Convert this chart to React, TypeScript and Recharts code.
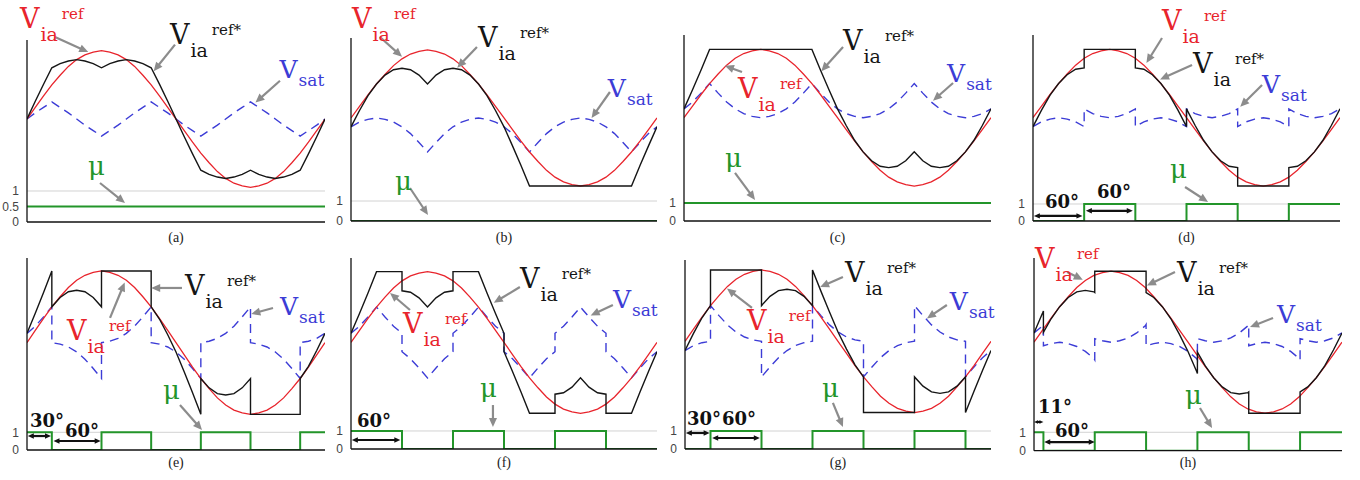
import React from 'react';
import { LineChart, Line, XAxis, YAxis, ReferenceLine, ReferenceDot } from 'recharts';

type Pt = [number, number];

// Electrical angle grid (degrees) for the continuous traces
const DEG = [0, 10, 20, 30, 40, 50, 60, 70, 80, 90, 100, 110, 120, 130, 140, 150, 160, 170, 180,
  190, 200, 210, 220, 230, 240, 250, 260, 270, 280, 290, 300, 310, 320, 330, 340, 350, 360];

// Phase-a reference V_ia^ref, per unit of its peak
const V_REF = [0, 0.17, 0.34, 0.5, 0.64, 0.77, 0.87, 0.94, 0.98, 1, 0.98, 0.94, 0.87, 0.77, 0.64, 0.5, 0.34, 0.17, 0,
  -0.17, -0.34, -0.5, -0.64, -0.77, -0.87, -0.94, -0.98, -1, -0.98, -0.94, -0.87, -0.77, -0.64, -0.5, -0.34, -0.17, 0];

// (a) mu = 0.5
const A_STAR = [0, 0.26, 0.51, 0.75, 0.81, 0.85, 0.87, 0.85, 0.81, 0.75, 0.81, 0.85, 0.87, 0.85, 0.81, 0.75, 0.51, 0.26, 0,
  -0.26, -0.51, -0.75, -0.81, -0.85, -0.87, -0.85, -0.81, -0.75, -0.81, -0.85, -0.87, -0.85, -0.81, -0.75, -0.51, -0.26, 0];
const A_SAT = [0, 0.09, 0.17, 0.25, 0.17, 0.09, 0, -0.09, -0.17, -0.25, -0.17, -0.09, 0, 0.09, 0.17, 0.25, 0.17, 0.09, 0,
  -0.09, -0.17, -0.25, -0.17, -0.09, 0, 0.09, 0.17, 0.25, 0.17, 0.09, 0, -0.09, -0.17, -0.25, -0.17, -0.09, 0];

// (b) mu = 0
const B_STAR = [-0.13, 0.11, 0.33, 0.5, 0.63, 0.71, 0.73, 0.71, 0.63, 0.5, 0.63, 0.71, 0.73, 0.71, 0.63, 0.5, 0.33, 0.11, -0.13,
  -0.41, -0.7, -1, -1, -1, -1, -1, -1, -1, -1, -1, -1, -1, -1, -1, -0.7, -0.41, -0.13];
const B_SAT = [-0.13, -0.06, -0.02, 0, -0.02, -0.06, -0.13, -0.23, -0.36, -0.5, -0.36, -0.23, -0.13, -0.06, -0.02, 0, -0.02, -0.06, -0.13,
  -0.23, -0.36, -0.5, -0.36, -0.23, -0.13, -0.06, -0.02, 0, -0.02, -0.06, -0.13, -0.23, -0.36, -0.5, -0.36, -0.23, -0.13];

// (c) mu = 1
const C_STAR = [0.13, 0.41, 0.7, 1, 1, 1, 1, 1, 1, 1, 1, 1, 1, 1, 1, 1, 0.7, 0.41, 0.13,
  -0.11, -0.33, -0.5, -0.63, -0.71, -0.73, -0.71, -0.63, -0.5, -0.63, -0.71, -0.73, -0.71, -0.63, -0.5, -0.33, -0.11, 0.13];
const C_SAT = [0.13, 0.23, 0.36, 0.5, 0.36, 0.23, 0.13, 0.06, 0.02, 0, 0.02, 0.06, 0.13, 0.23, 0.36, 0.5, 0.36, 0.23, 0.13,
  0.06, 0.02, 0, 0.02, 0.06, 0.13, 0.23, 0.36, 0.5, 0.36, 0.23, 0.13, 0.06, 0.02, 0, 0.02, 0.06, 0.13];

// (d)-(h): [angle, value]; a repeated angle marks a switching instant
const D_STAR: Pt[] = [[0, -0.13], [10, 0.11], [20, 0.33], [30, 0.5], [40, 0.63], [50, 0.71], [60, 0.73], [60, 1], [120, 1], [120, 0.73],
  [130, 0.71], [140, 0.63], [150, 0.5], [160, 0.33], [170, 0.11], [180, -0.13], [180, 0.13], [190, -0.11], [200, -0.33], [210, -0.5],
  [220, -0.63], [230, -0.71], [240, -0.73], [240, -1], [300, -1], [300, -0.73], [310, -0.71], [320, -0.63], [330, -0.5], [340, -0.33],
  [350, -0.11], [360, 0.13]];
const D_SAT: Pt[] = [[0, -0.13], [10, -0.06], [20, -0.02], [30, 0], [40, -0.02], [50, -0.06], [60, -0.13], [60, 0.13], [70, 0.06], [80, 0.02],
  [90, 0], [100, 0.02], [110, 0.06], [120, 0.13], [120, -0.13], [130, -0.06], [140, -0.02], [150, 0], [160, -0.02], [170, -0.06], [180, -0.13],
  [180, 0.13], [190, 0.06], [200, 0.02], [210, 0], [220, 0.02], [230, 0.06], [240, 0.13], [240, -0.13], [250, -0.06], [260, -0.02], [270, 0],
  [280, -0.02], [290, -0.06], [300, -0.13], [300, 0.13], [310, 0.06], [320, 0.02], [330, 0], [340, 0.02], [350, 0.06], [360, 0.13]];

const E_STAR: Pt[] = [[0, 0.13], [10, 0.41], [20, 0.7], [30, 1], [30, 0.5], [40, 0.63], [50, 0.71], [60, 0.73], [70, 0.71], [80, 0.63],
  [90, 0.5], [90, 1], [150, 1], [150, 0.5], [160, 0.33], [170, 0.11], [180, -0.13], [190, -0.41], [200, -0.7], [210, -1], [210, -0.5],
  [220, -0.63], [230, -0.71], [240, -0.73], [250, -0.71], [260, -0.63], [270, -0.5], [270, -1], [330, -1], [330, -0.5], [340, -0.33],
  [350, -0.11], [360, 0.13]];
const E_SAT: Pt[] = [[0, 0.13], [10, 0.23], [20, 0.36], [30, 0.5], [30, 0], [40, -0.02], [50, -0.06], [60, -0.13], [70, -0.23], [80, -0.36],
  [90, -0.5], [90, 0], [100, 0.02], [110, 0.06], [120, 0.13], [130, 0.23], [140, 0.36], [150, 0.5], [150, 0], [160, -0.02], [170, -0.06],
  [180, -0.13], [190, -0.23], [200, -0.36], [210, -0.5], [210, 0], [220, 0.02], [230, 0.06], [240, 0.13], [250, 0.23], [260, 0.36],
  [270, 0.5], [270, 0], [280, -0.02], [290, -0.06], [300, -0.13], [310, -0.23], [320, -0.36], [330, -0.5], [330, 0], [340, 0.02],
  [350, 0.06], [360, 0.13]];

const F_STAR: Pt[] = [[0, 0.13], [10, 0.41], [20, 0.7], [30, 1], [60, 1], [60, 0.73], [70, 0.71], [80, 0.63], [90, 0.5], [100, 0.63],
  [110, 0.71], [120, 0.73], [120, 1], [150, 1], [160, 0.7], [170, 0.41], [180, 0.13], [180, -0.13], [190, -0.41], [200, -0.7], [210, -1],
  [240, -1], [240, -0.73], [250, -0.71], [260, -0.63], [270, -0.5], [280, -0.63], [290, -0.71], [300, -0.73], [300, -1], [330, -1],
  [340, -0.7], [350, -0.41], [360, -0.13]];
const F_SAT: Pt[] = [[0, 0.13], [10, 0.23], [20, 0.36], [30, 0.5], [40, 0.36], [50, 0.23], [60, 0.13], [60, -0.13], [70, -0.23], [80, -0.36],
  [90, -0.5], [100, -0.36], [110, -0.23], [120, -0.13], [120, 0.13], [130, 0.23], [140, 0.36], [150, 0.5], [160, 0.36], [170, 0.23],
  [180, 0.13], [180, -0.13], [190, -0.23], [200, -0.36], [210, -0.5], [220, -0.36], [230, -0.23], [240, -0.13], [240, 0.13], [250, 0.23],
  [260, 0.36], [270, 0.5], [280, 0.36], [290, 0.23], [300, 0.13], [300, -0.13], [310, -0.23], [320, -0.36], [330, -0.5], [340, -0.36],
  [350, -0.23], [360, -0.13]];

const G_STAR: Pt[] = [[0, -0.13], [10, 0.11], [20, 0.33], [30, 0.5], [30, 1], [90, 1], [90, 0.5], [100, 0.63], [110, 0.71], [120, 0.73],
  [130, 0.71], [140, 0.63], [150, 0.5], [150, 1], [160, 0.7], [170, 0.41], [180, 0.13], [190, -0.11], [200, -0.33], [210, -0.5], [210, -1],
  [270, -1], [270, -0.5], [280, -0.63], [290, -0.71], [300, -0.73], [310, -0.71], [320, -0.63], [330, -0.5], [330, -1], [340, -0.7],
  [350, -0.41], [360, -0.13]];
const G_SAT: Pt[] = [[0, -0.13], [10, -0.06], [20, -0.02], [30, 0], [30, 0.5], [40, 0.36], [50, 0.23], [60, 0.13], [70, 0.06], [80, 0.02],
  [90, 0], [90, -0.5], [100, -0.36], [110, -0.23], [120, -0.13], [130, -0.06], [140, -0.02], [150, 0], [150, 0.5], [160, 0.36], [170, 0.23],
  [180, 0.13], [190, 0.06], [200, 0.02], [210, 0], [210, -0.5], [220, -0.36], [230, -0.23], [240, -0.13], [250, -0.06], [260, -0.02],
  [270, 0], [270, 0.5], [280, 0.36], [290, 0.23], [300, 0.13], [310, 0.06], [320, 0.02], [330, 0], [330, -0.5], [340, -0.36],
  [350, -0.23], [360, -0.13]];

const H_STAR: Pt[] = [[0, 0.13], [10, 0.41], [11, 0.44], [11, 0.14], [20, 0.33], [30, 0.5], [40, 0.63], [50, 0.71], [60, 0.73], [70, 0.71],
  [71, 0.7], [71, 1], [131, 1], [131, 0.7], [140, 0.63], [150, 0.5], [160, 0.33], [170, 0.11], [180, -0.13], [190, -0.41], [191, -0.44],
  [191, -0.14], [200, -0.33], [210, -0.5], [220, -0.63], [230, -0.71], [240, -0.73], [250, -0.71], [251, -0.7], [251, -1], [311, -1],
  [311, -0.7], [320, -0.63], [330, -0.5], [340, -0.33], [350, -0.11], [360, 0.13]];
const H_SAT: Pt[] = [[0, 0.13], [10, 0.23], [11, 0.25], [11, -0.05], [20, -0.02], [30, 0], [40, -0.02], [50, -0.06], [60, -0.13], [70, -0.23],
  [71, -0.25], [71, 0.05], [80, 0.02], [90, 0], [100, 0.02], [110, 0.06], [120, 0.13], [130, 0.23], [131, 0.25], [131, -0.05], [140, -0.02],
  [150, 0], [160, -0.02], [170, -0.06], [180, -0.13], [190, -0.23], [191, -0.25], [191, 0.05], [200, 0.02], [210, 0], [220, 0.02],
  [230, 0.06], [240, 0.13], [250, 0.23], [251, 0.25], [251, -0.05], [260, -0.02], [270, 0], [280, -0.02], [290, -0.06], [300, -0.13],
  [310, -0.23], [311, -0.25], [311, 0.05], [320, 0.02], [330, 0], [340, 0.02], [350, 0.06], [360, 0.13]];

// Distribution ratio mu (step after each listed angle)
const A_MU: Pt[] = [[0, 0.5], [360, 0.5]];
const B_MU: Pt[] = [[0, 0], [360, 0]];
const C_MU: Pt[] = [[0, 1], [360, 1]];
const D_MU: Pt[] = [[0, 0], [60, 1], [120, 0], [180, 1], [240, 0], [300, 1], [360, 1]];
const E_MU: Pt[] = [[0, 1], [30, 0], [90, 1], [150, 0], [210, 1], [270, 0], [330, 1], [360, 1]];
const F_MU: Pt[] = [[0, 1], [60, 0], [120, 1], [180, 0], [240, 1], [300, 0], [360, 0]];
const G_MU: Pt[] = [[0, 0], [30, 1], [90, 0], [150, 1], [210, 0], [270, 1], [330, 0], [360, 0]];
const H_MU: Pt[] = [[0, 1], [11, 0], [71, 1], [131, 0], [191, 1], [251, 0], [311, 1], [360, 1]];

const MU_TICKS_A = [0, 0.5, 1];
const MU_TICKS = [0, 1];

const onGrid = (ys: number[]) => DEG.map((x, i) => ({ x, y: ys[i] }));
const fromPairs = (p: Pt[]) => p.map(([x, y]) => ({ x, y }));

const RED = '#e8242c';
const BLACK = '#151515';
const BLUE = '#3c3cd6';
const GREEN = '#23952a';
const GRAY = '#8c8c8c';
const SERIF = '"DejaVu Serif", serif';

type Note =
  | { t: 'ref' | 'refStar' | 'sat'; at: Pt }
  | { t: 'mu'; at: Pt }
  | { t: 'deg'; text: string; at: Pt };
type Arrow = { from: Pt; to: Pt; axis: 'w' | 'mu'; span?: boolean; head?: number };

type PanelSpec = {
  caption: string;
  left: number; right: number; top: number; bottom: number; chartTop: number;
  wDomain: [number, number];
  muMax: number;
  muTicks: number[];
  star: { x: number; y: number }[];
  sat: { x: number; y: number }[];
  mu: Pt[];
  notes: Note[];
  arrows: Arrow[];
};

const PANELS: PanelSpec[] = [
  {
    caption: '(a)', left: 27, right: 325, top: 40, bottom: 222, chartTop: 0,
    wDomain: [-1.508, 1.157], muMax: 5.87, muTicks: MU_TICKS_A,
    star: onGrid(A_STAR), sat: onGrid(A_SAT), mu: A_MU,
    notes: [{ t: 'ref', at: [-8.5, 1.332] }, { t: 'refStar', at: [172.7, 1.1] }, { t: 'sat', at: [305, 0.6] }, { t: 'mu', at: [73.7, 1.516] }],
    arrows: [
      { from: [33.8, 1.2], to: [74, 0.98], axis: 'w' },
      { from: [178.8, 1.09], to: [153, 0.7], axis: 'w' },
      { from: [305.6, 0.56], to: [276, 0.24], axis: 'w' },
      { from: [88.2, 1.258], to: [118.4, 0.613], axis: 'mu' },
    ],
  },
  {
    caption: '(b)', left: 351, right: 657, top: 38, bottom: 221, chartTop: 0,
    wDomain: [-1.515, 1.176], muMax: 9.15, muTicks: MU_TICKS,
    star: onGrid(B_STAR), sat: onGrid(B_SAT), mu: B_MU,
    notes: [{ t: 'ref', at: [1.2, 1.324] }, { t: 'refStar', at: [149.4, 1.044] }, { t: 'sat', at: [302.2, 0.309] }, { t: 'mu', at: [51.7, 1.55] }],
    arrows: [
      { from: [34.1, 1.191], to: [60, 0.9], axis: 'w' },
      { from: [148.2, 1.044], to: [125, 0.74], axis: 'w' },
      { from: [304.6, 0.382], to: [283, 0.0], axis: 'w' },
      { from: [69.4, 1.65], to: [90.6, 0.3], axis: 'mu' },
    ],
  },
  {
    caption: '(c)', left: 684, right: 991, top: 35, bottom: 221, chartTop: 0,
    wDomain: [-1.512, 1.211], muMax: 10.33, muTicks: MU_TICKS,
    star: onGrid(C_STAR), sat: onGrid(C_SAT), mu: C_MU,
    notes: [{ t: 'refStar', at: [186.5, 0.991] }, { t: 'ref', at: [63.3, 0.287] }, { t: 'sat', at: [308.5, 0.523] }, { t: 'mu', at: [48.1, 3.0] }],
    arrows: [
      { from: [186.5, 1.035], to: [161, 0.68], axis: 'w' },
      { from: [68, 0.67], to: [48, 0.76], axis: 'w' },
      { from: [315.5, 0.508], to: [292, 0.25], axis: 'w' },
      { from: [59.8, 2.67], to: [83.3, 1.17], axis: 'mu' },
    ],
  },
  {
    caption: '(d)', left: 1033, right: 1340, top: 35, bottom: 221, chartTop: 0,
    wDomain: [-1.512, 1.211], muMax: 10.94, muTicks: MU_TICKS,
    star: fromPairs(D_STAR), sat: fromPairs(D_SAT), mu: D_MU,
    notes: [
      { t: 'ref', at: [151.3, 1.284] }, { t: 'refStar', at: [187.7, 0.654] }, { t: 'sat', at: [268.6, 0.362] }, { t: 'mu', at: [160.7, 2.53] },
      { t: 'deg', text: '60°', at: [14.1, 0.76] }, { t: 'deg', text: '60°', at: [75.1, 1.35] },
    ],
    arrows: [
      { from: [151.3, 1.167], to: [133, 0.8], axis: 'w' },
      { from: [186.5, 0.772], to: [149, 0.56], axis: 'w' },
      { from: [268.6, 0.479], to: [243, 0.16], axis: 'w' },
      { from: [178.3, 2.0], to: [205.3, 1.12], axis: 'mu' },
      { from: [1, 0.3], to: [58, 0.3], axis: 'mu', span: true },
      { from: [62, 0.6], to: [117, 0.6], axis: 'mu', span: true },
    ],
  },
  {
    caption: '(e)', left: 27, right: 325, top: 258, bottom: 450, chartTop: 244,
    wDomain: [-1.497, 1.181], muMax: 10.85, muTicks: MU_TICKS,
    star: fromPairs(E_STAR), sat: fromPairs(E_SAT), mu: E_MU,
    notes: [
      { t: 'refStar', at: [190.9, 0.665] }, { t: 'ref', at: [48.3, 0.038] }, { t: 'sat', at: [305.6, 0.386] }, { t: 'mu', at: [164.3, 2.88] },
      { t: 'deg', text: '30°', at: [3.6, 1.3] }, { t: 'deg', text: '60°', at: [45.9, 0.73] },
    ],
    arrows: [
      { from: [187.2, 0.763], to: [150, 0.763], axis: 'w' },
      { from: [100.3, 0.345], to: [118, 0.84], axis: 'w' },
      { from: [297.2, 0.484], to: [271, 0.4], axis: 'w' },
      { from: [184.8, 2.54], to: [211.4, 1.13], axis: 'mu' },
      { from: [1, 0.79], to: [29, 0.79], axis: 'mu', span: true },
      { from: [32, 0.51], to: [89, 0.51], axis: 'mu', span: true },
    ],
  },
  {
    caption: '(f)', left: 351, right: 657, top: 258, bottom: 449, chartTop: 244,
    wDomain: [-1.504, 1.193], muMax: 10.6, muTicks: MU_TICKS,
    star: fromPairs(F_STAR), sat: fromPairs(F_SAT), mu: F_MU,
    notes: [
      { t: 'refStar', at: [198.7, 0.77] }, { t: 'ref', at: [61.2, 0.134] }, { t: 'sat', at: [308.1, 0.487] }, { t: 'mu', at: [151.7, 2.89] },
      { t: 'deg', text: '60°', at: [7.1, 1.22] },
    ],
    arrows: [
      { from: [198.7, 0.784], to: [168, 0.56], axis: 'w' },
      { from: [69.4, 0.459], to: [45.9, 0.7], axis: 'w' },
      { from: [308.1, 0.53], to: [282, 0.38], axis: 'w' },
      { from: [167, 2.44], to: [167, 1.22], axis: 'mu' },
      { from: [1, 0.5], to: [58, 0.5], axis: 'mu', span: true },
    ],
  },
  {
    caption: '(g)', left: 685, right: 991, top: 260, bottom: 449, chartTop: 244,
    wDomain: [-1.511, 1.14], muMax: 10.5, muTicks: MU_TICKS,
    star: fromPairs(G_STAR), sat: fromPairs(G_SAT), mu: G_MU,
    notes: [
      { t: 'refStar', at: [188.2, 0.832] }, { t: 'ref', at: [72.9, 0.158] }, { t: 'sat', at: [311.6, 0.439] }, { t: 'mu', at: [161.1, 2.89] },
      { t: 'deg', text: '30°', at: [2.4, 1.33] }, { t: 'deg', text: '60°', at: [43.5, 1.33] },
    ],
    arrows: [
      { from: [185.8, 0.902], to: [159, 0.76], axis: 'w' },
      { from: [78.8, 0.467], to: [49.4, 0.74], axis: 'w' },
      { from: [308.1, 0.509], to: [284.6, 0.32], axis: 'w' },
      { from: [174, 2.56], to: [185.8, 1.22], axis: 'mu' },
      { from: [1, 0.89], to: [29, 0.89], axis: 'mu', span: true },
      { from: [32, 0.61], to: [88, 0.61], axis: 'mu', span: true },
    ],
  },
  {
    caption: '(h)', left: 1034, right: 1342, top: 258, bottom: 450.7, chartTop: 244,
    wDomain: [-1.528, 1.186], muMax: 10.47, muTicks: MU_TICKS,
    star: fromPairs(H_STAR), sat: fromPairs(H_SAT), mu: H_MU,
    notes: [
      { t: 'ref', at: [1.2, 1.045] }, { t: 'refStar', at: [167.2, 0.848] }, { t: 'sat', at: [284.1, 0.27] }, { t: 'mu', at: [176.5, 2.54] },
      { t: 'deg', text: '11°', at: [4.7, 2.05] }, { t: 'deg', text: '60°', at: [24.5, 0.74] },
    ],
    arrows: [
      { from: [38.6, 0.989], to: [57, 0.88], axis: 'w' },
      { from: [164.8, 0.989], to: [132, 0.8], axis: 'w' },
      { from: [279.4, 0.341], to: [252.5, 0.214], axis: 'w' },
      { from: [194, 2.32], to: [208.1, 1.23], axis: 'mu' },
      { from: [0, 1.56], to: [11, 1.56], axis: 'mu', span: true, head: 4 },
      { from: [12, 0.47], to: [71, 0.47], axis: 'mu', span: true },
    ],
  },
];

const REF_ROWS = onGrid(V_REF);

// "V" with a subscript and an optional superscript, drawn from its left baseline
function signalLabel(color: string, vSize: number, sub: string, subSize: number, subDy: number, sup: string | null) {
  return (props: any) => (
    <text x={props.cx} y={props.cy} fill={color} fontFamily={SERIF}>
      <tspan fontSize={vSize}>V</tspan>
      <tspan fontSize={subSize} dx={1} dy={subDy}>{sub}</tspan>
      {sup ? <tspan fontSize={15} dx={4} dy={-subDy - 9}>{sup}</tspan> : null}
    </text>
  );
}

const muLabel = (props: any) => (
  <text x={props.cx} y={props.cy} fill={GREEN} fontSize={26} fontFamily={SERIF}>μ</text>
);

const degLabel = (text: string) => (props: any) => (
  <text x={props.cx} y={props.cy} fill="#111" fontSize={18} fontWeight="bold" fontFamily={SERIF}>{text}</text>
);

function arrowShape(color: string, sw: number, head: number, both: boolean) {
  return (props: any) => {
    const { x1, y1, x2, y2 } = props;
    const dx = x2 - x1;
    const dy = y2 - y1;
    const len = Math.hypot(dx, dy) || 1;
    const ux = dx / len;
    const uy = dy / len;
    const hw = head * 0.45;
    const tri = (tx: number, ty: number, vx: number, vy: number) =>
      `${tx},${ty} ${tx - vx * head - vy * hw},${ty - vy * head + vx * hw} ${tx - vx * head + vy * hw},${ty - vy * head - vx * hw}`;
    const sx = both ? x1 + ux * head * 0.7 : x1;
    const sy = both ? y1 + uy * head * 0.7 : y1;
    return (
      <g>
        <line x1={sx} y1={sy} x2={x2 - ux * head * 0.7} y2={y2 - uy * head * 0.7} stroke={color} strokeWidth={sw} />
        <polygon points={tri(x2, y2, ux, uy)} fill={color} />
        {both ? <polygon points={tri(x1, y1, -ux, -uy)} fill={color} /> : null}
      </g>
    );
  };
}

function noteShape(n: Note) {
  if (n.t === 'ref') return signalLabel(RED, 27, 'ia', 19, 13, 'ref');
  if (n.t === 'refStar') return signalLabel(BLACK, 27, 'ia', 19, 13, 'ref*');
  if (n.t === 'sat') return signalLabel(BLUE, 25, 'sat', 17, 8, null);
  if (n.t === 'mu') return muLabel;
  return degLabel(n.text);
}

const Y_AXIS_W = 28;
const RIGHT_PAD = 26;
const BOTTOM_PAD = 10;

function Panel({ p }: { p: PanelSpec }) {
  const width = p.right - p.left + Y_AXIS_W + RIGHT_PAD;
  const height = p.bottom - p.chartTop + 2 + BOTTOM_PAD;
  return (
    <div style={{ position: 'absolute', left: p.left - Y_AXIS_W, top: p.chartTop }}>
      <LineChart
        width={width}
        height={height}
        margin={{ top: p.top - p.chartTop, right: RIGHT_PAD, bottom: BOTTOM_PAD, left: 0 }}
        style={{ overflow: 'visible' }}
      >
        <XAxis
          type="number"
          dataKey="x"
          domain={[0, 360]}
          allowDataOverflow
          tick={false}
          tickLine={false}
          axisLine={{ stroke: '#111', strokeWidth: 1.3 }}
          height={2}
        />
        <YAxis
          yAxisId="mu"
          type="number"
          domain={[0, p.muMax]}
          allowDataOverflow
          ticks={p.muTicks}
          interval={0}
          width={Y_AXIS_W}
          tickLine={false}
          axisLine={{ stroke: '#111', strokeWidth: 1.3 }}
          tick={{ fontSize: 12, fill: '#444', fontFamily: '"Liberation Sans", Arial, sans-serif' }}
        />
        <YAxis yAxisId="w" hide type="number" domain={p.wDomain} allowDataOverflow />
        <ReferenceLine yAxisId="mu" y={1} stroke="#d2d2d2" strokeWidth={1} />
        <Line yAxisId="mu" data={fromPairs(p.mu)} dataKey="y" type="stepAfter" stroke={GREEN} strokeWidth={2}
          dot={false} activeDot={false} isAnimationActive={false} />
        <Line yAxisId="w" data={p.sat} dataKey="y" type="linear" stroke={BLUE} strokeWidth={1.4} strokeDasharray="9 6"
          dot={false} activeDot={false} isAnimationActive={false} />
        <Line yAxisId="w" data={REF_ROWS} dataKey="y" type="linear" stroke={RED} strokeWidth={1.3}
          dot={false} activeDot={false} isAnimationActive={false} />
        <Line yAxisId="w" data={p.star} dataKey="y" type="linear" stroke={BLACK} strokeWidth={1.4}
          dot={false} activeDot={false} isAnimationActive={false} />
        {p.arrows.map((a, i) => (
          <ReferenceLine
            key={`ar${i}`}
            yAxisId={a.axis}
            segment={[{ x: a.from[0], y: a.from[1] }, { x: a.to[0], y: a.to[1] }]}
            ifOverflow="visible"
            shape={a.span ? arrowShape('#111', 2.2, a.head ?? 6, true) : arrowShape(GRAY, 2.2, 9, false)}
          />
        ))}
        {p.notes.map((n, i) => (
          <ReferenceDot
            key={`nt${i}`}
            yAxisId={n.t === 'mu' || n.t === 'deg' ? 'mu' : 'w'}
            x={n.at[0]}
            y={n.at[1]}
            r={0}
            ifOverflow="visible"
            shape={noteShape(n)}
          />
        ))}
      </LineChart>
    </div>
  );
}

export default function App() {
  return (
    <div style={{ position: 'absolute', left: 0, top: 0, width: 1360, height: 480, background: '#fff', overflow: 'hidden' }}>
      {PANELS.map((p) => (
        <Panel key={p.caption} p={p} />
      ))}
      {PANELS.map((p) => (
        <div
          key={`cap${p.caption}`}
          style={{
            position: 'absolute',
            left: (p.left + p.right) / 2 - 30,
            top: p.chartTop === 0 ? 230 : 455,
            width: 60,
            textAlign: 'center',
            fontFamily: '"Liberation Serif", serif',
            fontSize: 14,
            lineHeight: '16px',
            color: '#222',
          }}
        >
          {p.caption}
        </div>
      ))}
    </div>
  );
}
